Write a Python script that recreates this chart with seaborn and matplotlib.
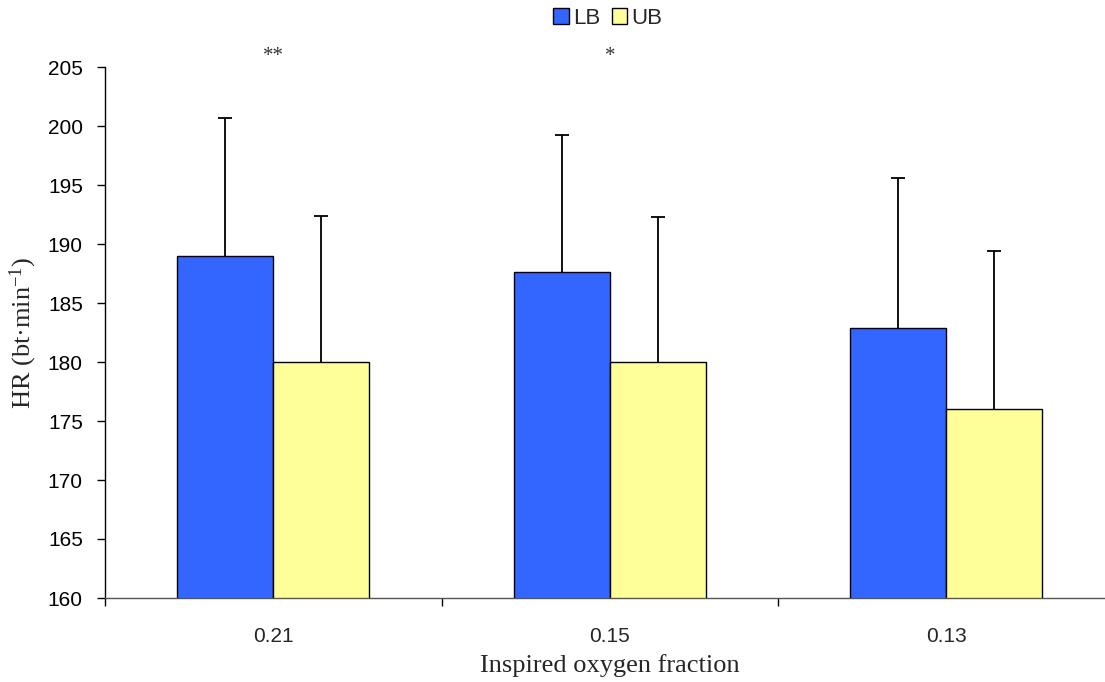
import numpy as np
import pandas as pd
import matplotlib
matplotlib.use("Agg")
import matplotlib.pyplot as plt
import seaborn as sns
from matplotlib.patches import Patch

categories = ["0.21", "0.15", "0.13"]
lb_mean = [189.0, 187.6, 182.9]
lb_sd = [11.7, 11.6, 12.7]
ub_mean = [180.0, 180.0, 176.0]
ub_sd = [12.4, 12.3, 13.4]
groups = ["LB", "UB"]
annotations = ["**", "*", ""]

sns.set_theme(style="white")
plt.rcParams["font.family"] = ["Liberation Sans", "DejaVu Sans"]
plt.rcParams["mathtext.default"] = "regular"

df = pd.DataFrame({
    "fraction": categories * 2,
    "group": ["LB"] * 3 + ["UB"] * 3,
    "hr": lb_mean + ub_mean,
})

fig = plt.figure(figsize=(11.05, 6.82), dpi=100)
ax = fig.add_axes([105 / 1105, 1 - 598 / 682, (1114.5 - 105) / 1105, (598 - 67) / 682])

palette = {"LB": "#3366FF", "UB": "#FFFF99"}
sns.barplot(data=df, x="fraction", y="hr", hue="group", order=categories,
            hue_order=groups, palette=palette, width=0.572, errorbar=None,
            edgecolor="black", linewidth=1.0, saturation=1, ax=ax, legend=False)

# upper-only error bars positioned from the bar geometry
sds = {"LB": lb_sd, "UB": ub_sd}
means = {"LB": lb_mean, "UB": ub_mean}
for container, g in zip(ax.containers, groups):
    xs = np.array([p.get_x() + p.get_width() / 2 for p in container.patches])
    lo = np.array(means[g])
    hi = lo + np.array(sds[g])
    ax.vlines(xs, lo, hi, color="black", linewidth=1.3, zorder=3)
    ax.plot(xs, hi, linestyle="none", marker="_", markersize=10,
            markeredgewidth=1.3, color="black", zorder=3)

ax.set_ylim(160, 205)
ax.set_xlim(-0.5, 2.5)
ax.set_yticks(np.arange(160, 206, 5))
ax.tick_params(axis="y", labelsize=15, length=6, width=1, direction="out", left=True, pad=10,
               colors="black")
ax.set_xticks(range(3))
ax.set_xticklabels(categories)
ax.set_xticks([-0.5, 0.5, 1.5, 2.5], minor=True)
ax.tick_params(axis="x", which="major", length=0, labelsize=15, pad=21)
ax.tick_params(axis="x", which="minor", length=6, width=1, direction="out", bottom=True,
               color="black")

for s in ["top", "right"]:
    ax.spines[s].set_visible(False)
ax.spines["left"].set_color("black")
ax.spines["bottom"].set_color("#555555")
ax.spines["left"].set_linewidth(1)
ax.spines["bottom"].set_linewidth(1)

ax.set_xlabel("Inspired oxygen fraction", family=["Liberation Serif"], fontsize=19, labelpad=6)
ax.set_ylabel("HR (bt·min$^{-1}$)", family=["Liberation Serif"], fontsize=19, labelpad=6)

for i, txt in enumerate(annotations):
    if txt:
        ax.text(i, 205.9, txt, ha="center", va="center", fontsize=15, color="#333333",
                family=["Liberation Serif"], clip_on=False)

handles = [Patch(facecolor=palette[g], edgecolor="black", label=g) for g in groups]
fig.legend(handles=handles, loc="center", bbox_to_anchor=(608 / 1105, 1 - 18 / 682), ncol=2,
           frameon=False, fontsize=16, handlelength=0.7, handleheight=0.7,
           handletextpad=0.2, columnspacing=0.5, borderpad=0)

fig.savefig("out.png", dpi=100)
